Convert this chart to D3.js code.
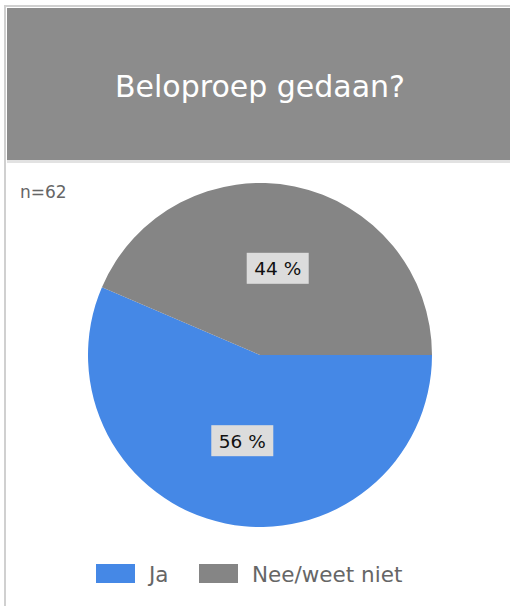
<!DOCTYPE html>
<html><head><meta charset="utf-8">
<script src="https://cdn.jsdelivr.net/npm/d3@7"></script>
<style>
html,body{margin:0;padding:0;background:#fff;}
svg{display:block;}
</style></head>
<body>
<script>
const title = "Beloproep gedaan?";
const sampleLabel = "n=62";
const categories = ["Ja", "Nee/weet niet"];
const values = [35, 27];
const percentLabels = ["56 %", "44 %"];
const colors = ["#4588e6", "#858585"];

const W = 510, H = 606;
const svg = d3.select("body").append("svg").attr("width", W).attr("height", H);
const font = "DejaVu Sans";

// frame
svg.append("rect").attr("x", 5).attr("y", 6).attr("width", W).attr("height", H)
  .attr("fill", "#fff").attr("stroke", "#d0d0d0").attr("stroke-width", 2);
svg.append("rect").attr("x", 7).attr("y", 8).attr("width", W - 7).attr("height", 152).attr("fill", "#8c8c8c");
svg.append("line").attr("x1", 7).attr("x2", W).attr("y1", 161.5).attr("y2", 161.5).attr("stroke", "#e2e2e2").attr("stroke-width", 3);
svg.append("text").attr("x", 260).attr("y", 97).attr("text-anchor", "middle")
  .attr("font-family", font).attr("font-size", 30).attr("fill", "#fff").text(title);

svg.append("text").attr("x", 20).attr("y", 198).attr("font-family", font).attr("font-size", 17)
  .attr("fill", "#666").text(sampleLabel);

const cx = 260, cy = 355, R = 172;
const pie = d3.pie().sort(null).value(d => d).startAngle(Math.PI / 2).endAngle(Math.PI / 2 + 2 * Math.PI);
const arcs = pie(values);
const arc = d3.arc().innerRadius(0).outerRadius(R);
const labelArc = d3.arc().innerRadius(88).outerRadius(88);
const g = svg.append("g").attr("transform", `translate(${cx},${cy})`);
g.selectAll("path").data(arcs).join("path").attr("d", arc).attr("fill", (d, i) => colors[i]);

const lab = g.selectAll("g.lab").data(arcs).join("g").attr("class", "lab")
  .attr("transform", d => `translate(${labelArc.centroid(d)})`);
lab.append("rect").attr("x", -31).attr("y", -16).attr("width", 62).attr("height", 31).attr("fill", "#dcdcdc");
lab.append("text").attr("text-anchor", "middle").attr("dy", "0.35em")
  .attr("font-family", font).attr("font-size", 18.5).attr("fill", "#111").text((d, i) => percentLabels[i]);

// legend
const legendX = [96, 199];
const leg = svg.selectAll("g.leg").data(categories).join("g").attr("class", "leg")
  .attr("transform", (d, i) => `translate(${legendX[i]},564)`);
leg.append("rect").attr("width", 39).attr("height", 19).attr("fill", (d, i) => colors[i]);
leg.append("text").attr("x", 53).attr("y", 10).attr("dy", "0.35em").attr("font-family", font)
  .attr("font-size", 21.5).attr("fill", "#666").text(d => d);
</script>
</body></html>
